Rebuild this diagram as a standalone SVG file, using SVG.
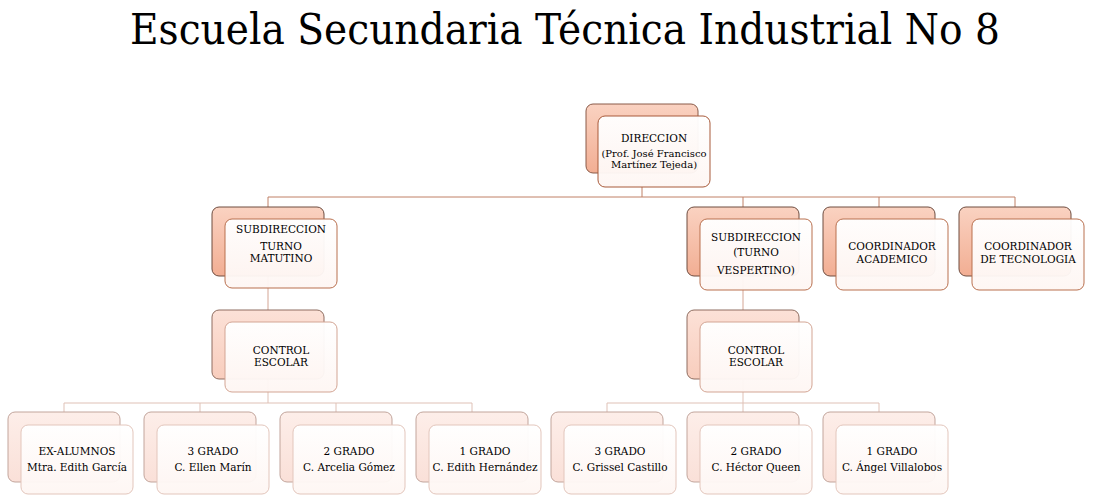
<svg xmlns="http://www.w3.org/2000/svg" width="1094" height="504" viewBox="0 0 1094 504">
<defs>
<linearGradient id="gb1" x1="0" y1="0" x2="0" y2="1"><stop offset="0" stop-color="#FAD2C1"/><stop offset="1" stop-color="#F2AE93"/></linearGradient>
<linearGradient id="gb3" x1="0" y1="0" x2="0" y2="1"><stop offset="0" stop-color="#FCE1D7"/><stop offset="1" stop-color="#F8CDBD"/></linearGradient>
<linearGradient id="gb4" x1="0" y1="0" x2="0" y2="1"><stop offset="0" stop-color="#FDEEE9"/><stop offset="1" stop-color="#FAE0D8"/></linearGradient>
<linearGradient id="gf" x1="0" y1="0" x2="0" y2="1"><stop offset="0" stop-color="#FFFFFF"/><stop offset="1" stop-color="#FEF6F3"/></linearGradient>
</defs>
<style>
.b{stroke-width:1}
.b1{fill:url(#gb1);stroke:#8A5A48}
.b2{fill:url(#gb1);stroke:#6E4C3F}
.b3{fill:url(#gb3);stroke:#8F6D60}
.b4{fill:url(#gb4);stroke:#C2A59C}
.f{fill:url(#gf);stroke-width:1;fill-opacity:0.96}
.f1{stroke:#A85A3A}
.f2{stroke:#B9704F}
.f3{stroke:#D3A594}
.f4{stroke:#E3C6BC}
.t{font-family:"DejaVu Serif","Liberation Serif",serif;font-size:10.5px;fill:#000;text-anchor:middle}
.s{font-size:10px}
.c{fill:none;stroke-width:1}
.c1{stroke:#C08066}
.c2{stroke:#D4A594}
.c3{stroke:#DFC1B6}
.title{font-family:"DejaVu Serif","Liberation Serif",serif;font-size:43px;fill:#000;text-anchor:middle}
</style>
<rect width="1094" height="504" fill="#FFFFFF"/>
<text class="title" x="565" y="44" textLength="870" lengthAdjust="spacingAndGlyphs">Escuela Secundaria Técnica Industrial No 8</text>
<g id="connectors">
<path class="c c1" d="M642 186V197M268 197H1015M268 197V207M743 197V207M879 197V207M1015 197V207"/>
<path class="c c2" d="M268 276V310M743 276V310"/>
<path class="c c3" d="M268 379V403M64 403H472M64 403V412M200 403V412M336 403V412M472 403V412"/>
<path class="c c3" d="M743 379V403M607 403H879M607 403V412M743 403V412M879 403V412"/>
</g>
<g id="direccion">
<rect class="b b1" x="586" y="104" width="112" height="69" rx="7"/>
<rect class="f f1" x="598" y="116" width="112" height="71" rx="7"/>
<text class="t" x="654" y="142">DIRECCION</text>
<text class="t s" x="654" y="157">(Prof. José Francisco</text>
<text class="t s" x="654" y="168">Martínez Tejeda)</text>
</g>
<g id="sub-matutino">
<rect class="b b2" x="212" y="207" width="112" height="69" rx="7"/>
<rect class="f f2" x="225" y="219" width="112" height="69" rx="7"/>
<text class="t" x="281" y="233">SUBDIRECCION</text>
<text class="t" x="281" y="250">TURNO</text>
<text class="t" x="281" y="262">MATUTINO</text>
</g>
<g id="sub-vespertino">
<rect class="b b2" x="687" y="207" width="112" height="69" rx="7"/>
<rect class="f f2" x="700" y="219" width="112" height="71" rx="7"/>
<text class="t" x="756" y="241">SUBDIRECCION</text>
<text class="t" x="756" y="256">(TURNO</text>
<text class="t" x="756" y="274">VESPERTINO)</text>
</g>
<g id="coord-academico">
<rect class="b b2" x="823" y="207" width="112" height="69" rx="7"/>
<rect class="f f2" x="836" y="219" width="112" height="71" rx="7"/>
<text class="t" x="892" y="250">COORDINADOR</text>
<text class="t" x="892" y="263">ACADEMICO</text>
</g>
<g id="coord-tecnologia">
<rect class="b b2" x="959" y="207" width="112" height="69" rx="7"/>
<rect class="f f2" x="972" y="219" width="112" height="71" rx="7"/>
<text class="t" x="1028" y="250">COORDINADOR</text>
<text class="t" x="1028" y="263">DE TECNOLOGIA</text>
</g>
<g id="control-matutino">
<rect class="b b3" x="212" y="310" width="112" height="69" rx="7"/>
<rect class="f f3" x="225" y="322" width="112" height="70" rx="7"/>
<text class="t" x="281" y="354">CONTROL</text>
<text class="t" x="281" y="366">ESCOLAR</text>
</g>
<g id="control-vespertino">
<rect class="b b3" x="687" y="310" width="112" height="69" rx="7"/>
<rect class="f f3" x="700" y="322" width="112" height="70" rx="7"/>
<text class="t" x="756" y="354">CONTROL</text>
<text class="t" x="756" y="366">ESCOLAR</text>
</g>
<g id="ex-alumnos">
<rect class="b b4" x="8" y="412" width="112" height="70" rx="7"/>
<rect class="f f4" x="21" y="425" width="112" height="69" rx="7"/>
<text class="t" x="77" y="455">EX-ALUMNOS</text>
<text class="t" x="77" y="471">Mtra. Edith García</text>
</g>
<g id="m-3grado">
<rect class="b b4" x="144" y="412" width="112" height="70" rx="7"/>
<rect class="f f4" x="157" y="425" width="112" height="69" rx="7"/>
<text class="t" x="213" y="455">3 GRADO</text>
<text class="t" x="213" y="471">C. Ellen Marín</text>
</g>
<g id="m-2grado">
<rect class="b b4" x="280" y="412" width="112" height="70" rx="7"/>
<rect class="f f4" x="293" y="425" width="112" height="69" rx="7"/>
<text class="t" x="349" y="455">2 GRADO</text>
<text class="t" x="349" y="471">C. Arcelia Gómez</text>
</g>
<g id="m-1grado">
<rect class="b b4" x="416" y="412" width="112" height="70" rx="7"/>
<rect class="f f4" x="429" y="425" width="112" height="69" rx="7"/>
<text class="t" x="485" y="455">1 GRADO</text>
<text class="t" x="485" y="471">C. Edith Hernández</text>
</g>
<g id="v-3grado">
<rect class="b b4" x="551" y="412" width="112" height="70" rx="7"/>
<rect class="f f4" x="564" y="425" width="112" height="69" rx="7"/>
<text class="t" x="620" y="455">3 GRADO</text>
<text class="t" x="620" y="471">C. Grissel Castillo</text>
</g>
<g id="v-2grado">
<rect class="b b4" x="687" y="412" width="112" height="70" rx="7"/>
<rect class="f f4" x="700" y="425" width="112" height="69" rx="7"/>
<text class="t" x="756" y="455">2 GRADO</text>
<text class="t" x="756" y="471">C. Héctor Queen</text>
</g>
<g id="v-1grado">
<rect class="b b4" x="823" y="412" width="112" height="70" rx="7"/>
<rect class="f f4" x="836" y="425" width="112" height="69" rx="7"/>
<text class="t" x="892" y="455">1 GRADO</text>
<text class="t" x="892" y="471">C. Ángel Villalobos</text>
</g>
</svg>
